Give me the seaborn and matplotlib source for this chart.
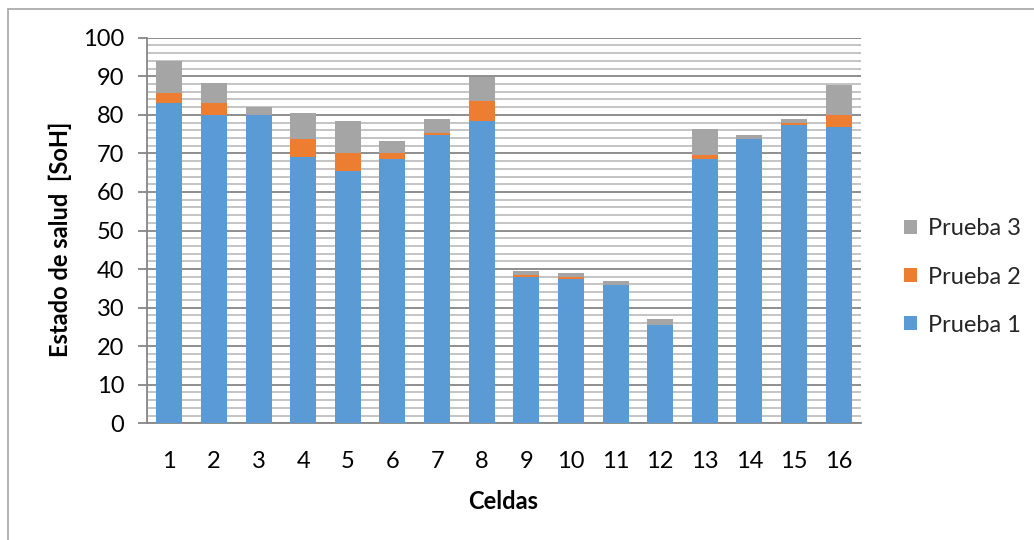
import numpy as np
import matplotlib
matplotlib.use("Agg")
import matplotlib.pyplot as plt
from matplotlib.patches import Patch
from matplotlib.lines import Line2D
from matplotlib.ticker import MultipleLocator
import seaborn as sns

# Data: height of each test's bar top per cell (overlapped, Prueba 1 in front)
celdas = [str(i) for i in range(1, 17)]
prueba1 = [83.1, 79.9, 79.9, 69.1, 65.4, 68.5, 74.8, 78.4,
           37.9, 37.4, 35.9, 25.5, 68.5, 73.7, 77.4, 76.8]
prueba2 = [85.7, 83.1, 79.9, 73.7, 70.1, 70.1, 75.3, 83.6,
           38.5, 37.9, 35.9, 25.5, 69.6, 73.7, 77.9, 80.0]
prueba3 = [94.0, 88.3, 82.0, 80.5, 78.4, 73.2, 78.9, 89.8,
           39.6, 39.0, 36.9, 27.0, 76.3, 74.8, 78.9, 87.8]

series = ["Prueba 1", "Prueba 2", "Prueba 3"]
colors = {"Prueba 1": "#5B9BD5", "Prueba 2": "#ED7D31", "Prueba 3": "#A5A5A5"}

sns.set_theme(style="white")
plt.rcParams['font.family'] = ['Lato', 'DejaVu Sans']

W, H = 1034, 540
fig = plt.figure(figsize=(W / 100, H / 100), dpi=100)
ax = fig.add_axes([147 / W, (H - 423.3) / H, (861 - 147) / W, (423.3 - 37.7) / H])

# back to front: Prueba 3, Prueba 2, Prueba 1
for name, vals in [("Prueba 3", prueba3), ("Prueba 2", prueba2), ("Prueba 1", prueba1)]:
    sns.barplot(x=celdas, y=vals, color=colors[name], width=0.58,
                saturation=1, linewidth=0, edgecolor='none', ax=ax, zorder=3)

ax.set_ylim(0, 100)
ax.set_xlim(-0.5, 15.5)
ax.yaxis.set_major_locator(MultipleLocator(10))
ax.yaxis.set_minor_locator(MultipleLocator(2))
ax.grid(False)
ax.grid(axis='y', which='major', color='#868686', lw=1.3, zorder=1)
ax.grid(axis='y', which='minor', color='#BFBFBF', lw=1.3, zorder=1)
ax.set_axisbelow(True)

for s in ['top', 'right']:
    ax.spines[s].set_visible(False)
for s in ['left', 'bottom']:
    ax.spines[s].set_color('#868686')
    ax.spines[s].set_linewidth(1.3)

ax.tick_params(axis='y', which='major', left=True, length=6.5, width=1.3,
               color='#868686', pad=10, labelsize=17, labelcolor='black')
ax.tick_params(axis='y', which='minor', left=False)
ax.tick_params(axis='x', bottom=False, pad=14, labelsize=17, labelcolor='black')

ax.set_xlabel('Celdas', fontsize=17, fontweight='bold', color='black')
ax.set_ylabel('Estado de salud  [SoH]', fontsize=17, fontweight='bold', color='black')
ax.xaxis.set_label_coords(0.4986, -0.173)
ax.yaxis.set_label_coords(-0.105, 0.478)

handles = [Patch(facecolor=colors[n], edgecolor='none', label=n) for n in series[::-1]]
fig.legend(handles=handles, loc='center left', bbox_to_anchor=(904 / W, 1 - 277 / H),
           frameon=False, fontsize=17, borderpad=0, borderaxespad=0,
           handlelength=0.55, handleheight=0.55, handletextpad=0.45, labelspacing=1.15)

# chart frame (only left and top edges fall inside the image)
fig.add_artist(Line2D([8 / W, 8 / W], [0, 1 - 9 / H], color='#A6A6A6', lw=1.2))
fig.add_artist(Line2D([8 / W, 1], [1 - 9 / H, 1 - 9 / H], color='#A6A6A6', lw=1.2))

fig.savefig("out.png", dpi=100)
